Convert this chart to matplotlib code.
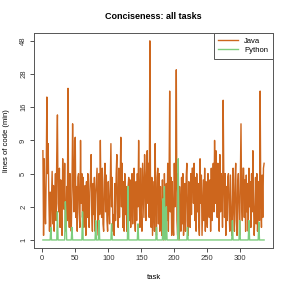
import numpy as np
import matplotlib
matplotlib.use("Agg")
import matplotlib.pyplot as plt

# per-task lines of code, relative to the shortest solution
java = [
    7.5, 1.1, 6.5, 2.0, 1.4, 4.5, 19, 5.0, 8.5, 2.5, 1.2, 3.0,
    1.3, 2.5, 5.2, 1.4, 3.6, 1.2, 2.6, 5.0, 1.5, 7.0, 14, 2.2,
    1.8, 5.5, 1.3, 4.2, 1.6, 1.1, 6.5, 2.5, 1.9, 6.0, 1.3, 1.2,
    3.5, 1.5, 22, 2.0, 1.3, 5.0, 1.6, 1.2, 3.2, 12, 4.0, 1.8,
    9.0, 9.5, 1.6, 3.5, 1.2, 4.5, 5.0, 1.8, 1.3, 9.0, 2.2, 5.0,
    1.6, 4.5, 1.3, 2.8, 3.6, 1.1, 4.0, 1.6, 5.0, 2.0, 1.3, 3.0,
    4.5, 7.0, 1.7, 1.2, 3.8, 1.7, 4.5, 1.2, 2.8, 4.0, 5.5, 1.5,
    1.1, 5.0, 1.7, 9.0, 2.4, 1.6, 5.5, 1.4, 1.2, 4.0, 6.0, 1.8,
    4.8, 1.5, 1.2, 4.0, 2.0, 1.4, 3.5, 8.5, 2.0, 4.5, 1.2, 1.7,
    1.1, 3.8, 1.5, 5.0, 7.0, 1.8, 1.3, 5.5, 1.6, 4.0, 9.5, 2.0,
    6.0, 1.3, 4.0, 1.2, 5.0, 1.7, 3.5, 1.2, 2.0, 3.5, 4.5, 1.5,
    4.2, 1.3, 2.8, 5.0, 1.4, 3.5, 5.5, 1.6, 1.2, 4.0, 1.5, 5.0,
    2.0, 9.0, 2.4, 1.3, 5.5, 1.8, 1.2, 6.0, 3.0, 1.6, 7.0, 4.0,
    1.5, 5.0, 7.5, 2.2, 6.0, 1.6, 48, 3.0, 1.3, 4.5, 1.1, 2.0,
    4.0, 1.2, 8.5, 2.0, 1.1, 4.5, 5.5, 1.4, 5.0, 1.2, 3.5, 1.6,
    1.1, 4.2, 1.4, 1.0, 5.0, 2.0, 1.2, 3.8, 1.5, 6.0, 1.2, 3.5,
    21, 1.8, 4.5, 1.1, 4.0, 1.4, 1.1, 6.0, 2.0, 4.2, 30, 1.5,
    1.1, 5.0, 1.0, 3.5, 1.7, 1.2, 4.5, 1.4, 5.0, 1.1, 2.0, 3.8,
    1.2, 4.5, 6.0, 1.5, 1.1, 4.0, 2.0, 1.3, 5.0, 1.7, 5.5, 5.5,
    2.2, 6.0, 1.5, 4.5, 1.2, 5.0, 1.8, 3.8, 1.4, 1.1, 6.5, 2.2,
    4.8, 1.1, 2.0, 4.2, 1.5, 5.5, 1.2, 4.0, 1.8, 1.3, 5.0, 2.4,
    1.6, 4.2, 1.2, 5.5, 1.5, 3.8, 6.0, 1.8, 9.0, 2.2, 7.5, 4.8,
    1.6, 6.0, 3.8, 1.2, 7.0, 1.8, 5.0, 4.0, 1.3, 18, 4.2, 1.6,
    5.0, 1.1, 3.5, 1.5, 4.5, 5.0, 1.8, 1.2, 4.8, 2.2, 1.1, 1.7,
    5.5, 2.0, 1.2, 4.2, 6.0, 1.5, 1.1, 3.8, 5.0, 1.8, 1.1, 4.5,
    12, 2.2, 1.5, 5.5, 5.5, 1.6, 4.2, 1.2, 4.8, 1.8, 3.8, 1.2,
    5.5, 2.0, 4.0, 1.3, 5.0, 1.8, 7.5, 2.2, 1.1, 1.7, 4.5, 1.4,
    5.0, 1.2, 1.8, 4.0, 1.5, 21, 2.2, 1.3, 4.8, 1.6, 5.5, 6.0,
]
python = [
    1, 1, 1, 1, 1, 1, 1, 1, 1, 1, 1, 1,
    1.3, 1, 1, 1, 1, 1, 1, 1, 1, 1, 1.8, 1,
    1, 1, 1, 1, 1, 1, 1, 1, 1, 1, 2.3, 1.6,
    1, 1, 1, 1, 1, 1, 1, 1, 1.3, 1, 1, 1,
    1, 1, 1, 1, 1, 1, 1, 1, 1, 1, 1, 1,
    1.8, 1, 1, 1, 1, 1, 1, 1, 1, 1, 1, 1,
    1, 1, 1, 1, 1, 1, 1, 1, 1.5, 1, 1, 1,
    1, 1.5, 1, 1, 1, 1, 1, 1, 1, 1, 1, 1,
    1, 1, 1, 1, 1, 1, 1, 1, 1.4, 1, 1, 1,
    1, 1, 1, 1, 1, 1, 1, 1, 1, 1, 1, 1,
    1, 1, 1, 1, 1, 1, 1, 1, 1, 3.5, 1, 1,
    1, 1, 1, 1, 1, 1, 1, 1, 1, 1, 1, 1,
    1.4, 1, 1, 1, 1, 1, 1, 1, 1, 1, 1, 1,
    1, 1, 1, 1, 1, 1, 1, 1, 1, 1, 1, 1,
    1, 1, 1, 1, 1.3, 1, 1, 1, 1, 1, 1, 1,
    1, 1, 2.5, 1, 3.5, 1, 1, 2.0, 1, 1, 1, 1,
    1, 1, 1, 1, 1, 1, 1, 1, 1, 1, 1, 1,
    1, 6.5, 1, 1, 1, 1, 1, 1, 1, 1, 1, 1,
    1, 1, 1, 1.3, 1, 1, 1, 1, 1, 1, 1, 1,
    1, 1, 1, 1, 1, 1, 1, 1, 1, 1, 1, 1,
    1, 1, 1, 1, 1, 1, 1, 1, 1, 1, 1, 1,
    1, 1, 1, 1, 1, 1, 1, 1, 1, 1, 1, 1,
    1, 1, 1, 1, 1, 1, 1, 1, 1, 1, 1, 1,
    1, 1, 1, 1, 1, 1, 1, 1, 1, 1, 1, 1.5,
    1, 1, 1, 1, 1, 1, 1, 1, 1, 1, 1.5, 1,
    1, 1, 1, 1, 1, 1, 1, 1, 1, 1, 1, 1,
    1.5, 1, 1, 1, 1, 1, 1, 1, 1, 1, 1, 1,
    1, 1, 1, 1.45, 1, 1, 1, 1, 1, 1, 1, 1,
]
y_ticks = [1, 2, 5, 9, 16, 28, 48]
x_ticks = [0, 50, 100, 150, 200, 250, 300]

tasks = np.arange(1, len(java) + 1)

# axis spacing: the labelled values sit evenly apart
knots_v = np.log([0.5] + y_ticks + [96])
knots_l = np.arange(-1, len(y_ticks) + 1)

def fwd(y):
    return np.interp(np.log(np.clip(y, 1e-9, None)), knots_v, knots_l)

def inv(l):
    return np.exp(np.interp(l, knots_l, knots_v))

plt.rcParams['font.family'] = ['Liberation Sans', 'DejaVu Sans']

fig = plt.figure(figsize=(2.91, 2.91), dpi=100)
ax = fig.add_axes([0.117, 0.148, 0.821, 0.739])
ax.set_yscale('function', functions=(fwd, inv))

ax.plot(tasks, java, color='#CD661D', lw=1.0, label='Java')
ax.plot(tasks, python, color='#7CCD7C', lw=1.0, label='Python')

n = len(java)
ax.set_xlim(1 - 0.04 * (n - 1), n + 0.04 * (n - 1))
ax.set_ylim(inv(-0.24), inv(len(y_ticks) - 1 + 0.24))
ax.set_yticks(y_ticks)
ax.set_yticklabels([str(t) for t in y_ticks], rotation=90, va='center')
ax.set_xticks(x_ticks)
ax.minorticks_off()
ax.tick_params(labelsize=5.5, length=3, width=0.6, pad=2, colors='#333333')

for s in ax.spines.values():
    s.set_linewidth(0.7)
    s.set_color('#555555')

ax.set_title('Conciseness: all tasks', fontsize=6.5, fontweight='bold', pad=10)
ax.set_xlabel('task', fontsize=5.5, labelpad=9)
ax.set_ylabel('lines of code (min)', fontsize=5.5, labelpad=7)

leg = ax.legend(loc='upper right', fontsize=5.5, fancybox=False, borderaxespad=0,
                edgecolor='#555555', framealpha=1, handlelength=2.6,
                borderpad=0.6, labelspacing=0.25)
leg.get_frame().set_linewidth(0.7)

fig.savefig('out.png', dpi=100)
